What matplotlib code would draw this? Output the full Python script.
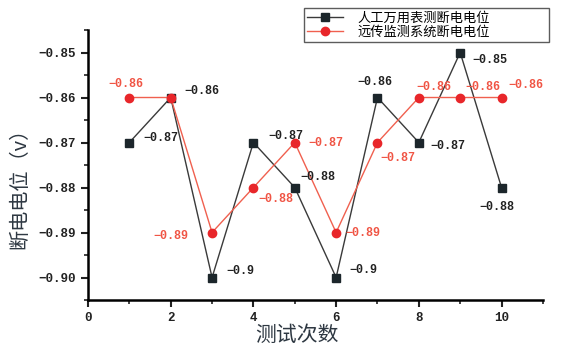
import numpy as np
import matplotlib
matplotlib.use("Agg")
import matplotlib.pyplot as plt
from matplotlib.ticker import MultipleLocator, FuncFormatter

plt.rcParams['font.family'] = ['Noto Sans CJK SC', 'DejaVu Sans']

runs = [1, 2, 3, 4, 5, 6, 7, 8, 9, 10]
manual = [-0.87, -0.86, -0.90, -0.87, -0.88, -0.90, -0.86, -0.87, -0.85, -0.88]
remote = [-0.86, -0.86, -0.89, -0.88, -0.87, -0.89, -0.87, -0.86, -0.86, -0.86]
manual_name = "人工万用表测断电电位"
remote_name = "远传监测系统断电电位"

# label placement (pixel offsets, alignment) for each point
manual_off = [(14, 5, 'left'), (14, 7, 'left'), (14, 7, 'left'), (15, 7, 'left'),
              (6, 11, 'left'), (13, 8, 'left'), (-3, 16, 'center'), (12, -3, 'left'),
              (12, -7, 'left'), (-5, -19, 'center')]
remote_off = [(-3, 14, 'center'), None, (-24, -3, 'right'), (5, -11, 'left'),
              (14, 0, 'left'), (9, 0, 'left'), (20, -15, 'center'), (-2, 11, 'left'),
              (5, 11, 'left'), (7, 13, 'left')]

black = '#1c262b'
red = '#e8262a'
lab_font = dict(family='Liberation Mono', fontsize=8.5, fontweight='bold')

fig = plt.figure(figsize=(5.62, 3.51), dpi=100)
ax = fig.add_axes([0.1566, 0.1453, 0.8094, 0.7692])

ax.plot(runs, manual, color='#3a3a3a', lw=1.0, marker='s', ms=6,
        mfc=black, mec=black, label=manual_name, zorder=3)
ax.plot(runs, remote, color='#f0604f', lw=1.0, marker='o', ms=6,
        mfc=red, mec=red, label=remote_name, zorder=3)

def fmt(v):
    s = ('%.2f' % v).rstrip('0')
    return s.replace('-', '−')

for x, y, o in zip(runs, manual, manual_off):
    ax.annotate(fmt(y), (x, y), xytext=(o[0], o[1]), textcoords='offset pixels',
                ha=o[2], va='center', color='#222222', **lab_font)
for x, y, o in zip(runs, remote, remote_off):
    if o is None:
        continue
    ax.annotate(fmt(y), (x, y), xytext=(o[0], o[1]), textcoords='offset pixels',
                ha=o[2], va='center', color='#f05545', **lab_font)

ax.set_xlim(0, 11)
ax.set_ylim(-0.905, -0.845)
ax.xaxis.set_major_locator(MultipleLocator(2))
ax.xaxis.set_minor_locator(MultipleLocator(1))
ax.yaxis.set_major_locator(MultipleLocator(0.01))
ax.yaxis.set_minor_locator(MultipleLocator(0.005))
ax.yaxis.set_major_formatter(FuncFormatter(lambda v, p: ('%.2f' % v).replace('-', '−')))

for s in ['top', 'right']:
    ax.spines[s].set_visible(False)
ax.spines['left'].set_linewidth(1.8)
ax.spines['bottom'].set_linewidth(1.8)
ax.tick_params(which='major', direction='out', length=5, width=1.5, colors='#222222')
ax.tick_params(which='minor', direction='out', length=3, width=1.2, colors='#222222')
for t in ax.get_xticklabels() + ax.get_yticklabels():
    t.set_fontfamily('Liberation Mono')
    t.set_fontsize(9)
    t.set_fontweight('bold')

ax.set_xlabel("测试次数", fontsize=15, color='#2e3842')
ax.set_ylabel("断电电位（v）", fontsize=14.5, color='#2e3842')
ax.xaxis.set_label_coords(0.459, -0.128)
ax.yaxis.set_label_coords(-0.149, 0.433)
ax.xaxis.label.set_va('center')
ax.yaxis.label.set_va('center')

leg = fig.legend(loc='upper left', bbox_to_anchor=(0.541, 0.880, 0.436, 0.097),
                 mode='expand', fontsize=9.5,
                 frameon=True, fancybox=False, edgecolor='#333333',
                 handlelength=2.7, borderpad=0.25, labelspacing=0.1,
                 handletextpad=1.1, borderaxespad=0)
leg.get_frame().set_linewidth(1.0)

fig.savefig('out.png', dpi=100)
